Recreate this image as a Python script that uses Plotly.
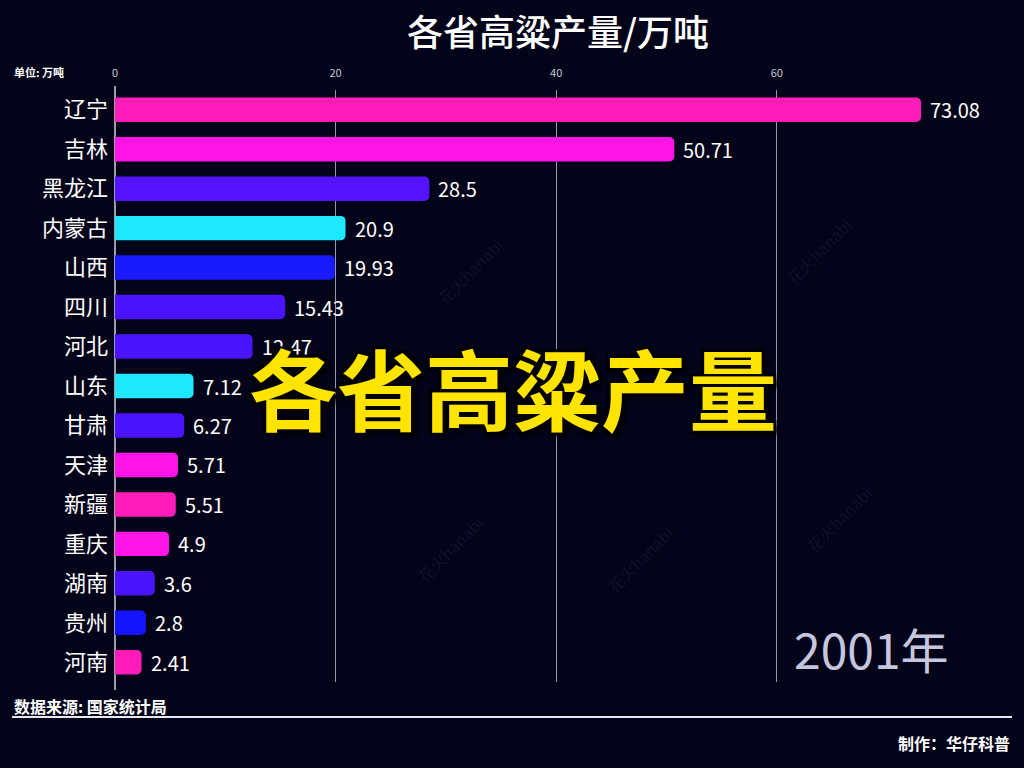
import plotly.graph_objects as go

provinces = ["辽宁", "吉林", "黑龙江", "内蒙古", "山西", "四川", "河北", "山东",
             "甘肃", "天津", "新疆", "重庆", "湖南", "贵州", "河南"]
values = [73.08, 50.71, 28.5, 20.9, 19.93, 15.43, 12.47, 7.12,
          6.27, 5.71, 5.51, 4.9, 3.6, 2.8, 2.41]
value_labels = ["73.08", "50.71", "28.5", "20.9", "19.93", "15.43", "12.47", "7.12",
                "6.27", "5.71", "5.51", "4.9", "3.6", "2.8", "2.41"]
colors = ["#ff1cb8", "#ff14e6", "#5514ff", "#1ee8ff", "#1a1aff", "#4a14ff", "#4a14ff", "#1ee8ff",
          "#4a14ff", "#ff14e6", "#ff1cb8", "#ff14e6", "#4a14ff", "#1414ff", "#ff1cb8"]
x_ticks = [0, 20, 40, 60]
title_text = "各省高粱产量/万吨"
year_text = "2001年"

FONT = "Noto Sans CJK SC"
BG = "#03031a"

# plot area in pixels
L, R, T, B = 115, 24, 90, 86
W, H = 1024, 768
pw, ph = W - L - R, H - T - B
x_max = pw / 11.03


def px(x):
    return (x - L) / pw


def py(y):
    return (H - B - y) / ph


fig = go.Figure()
fig.add_trace(go.Bar(
    x=values, y=provinces, orientation="h",
    marker=dict(color=colors, cornerradius=5, line=dict(width=0)),
    width=0.62, hoverinfo="skip",
))

annotations = []
for v, lab, p in zip(values, value_labels, provinces):
    annotations.append(dict(x=v, y=p, xref="x", yref="y", text=lab, showarrow=False,
                            xanchor="left", xshift=7,
                            font=dict(family=FONT, size=20, color="#ffffff")))

# watermarks
for (wx, wy) in [(470, 230), (860, 210), (450, 590), (640, 600), (880, 560)]:
    annotations.append(dict(x=px(wx), y=py(wy), xref="paper", yref="paper", text="花火hanabi",
                            showarrow=False, textangle=-45,
                            font=dict(family=FONT, size=16, color="rgba(120,130,200,0.12)")))

annotations += [
    dict(x=0.5, y=py(30), xref="paper", yref="paper", text=title_text, showarrow=False,
         xanchor="center", yanchor="middle",
         font=dict(family=FONT, size=36, color="#ffffff", weight=500)),
    dict(x=px(12), y=py(72), xref="paper", yref="paper", text="单位: 万吨", showarrow=False,
         xanchor="left", yanchor="middle",
         font=dict(family=FONT, size=11, color="#ffffff", weight="bold")),
    dict(x=px(12), y=py(706), xref="paper", yref="paper", text="数据来源: 国家统计局", showarrow=False,
         xanchor="left", yanchor="middle",
         font=dict(family=FONT, size=16, color="#ffffff", weight="bold")),
    dict(x=px(1012), y=py(743), xref="paper", yref="paper", text="制作：华仔科普", showarrow=False,
         xanchor="right", yanchor="middle",
         font=dict(family=FONT, size=16, color="#ffffff", weight="bold")),
    dict(x=px(792), y=py(648), xref="paper", yref="paper", text=year_text, showarrow=False,
         xanchor="left", yanchor="middle",
         font=dict(family=FONT, size=48, color="#c6c6de")),
    dict(x=px(513), y=py(385), xref="paper", yref="paper", text="各省高粱产量", showarrow=False,
         xanchor="center", yanchor="middle",
         font=dict(family=FONT, size=88, color="#ffe400", weight="bold",
                   shadow="3px 3px 0 #000, -3px -3px 0 #000, 3px -3px 0 #000, -3px 3px 0 #000, 4px 4px 5px #000")),
]

fig.update_layout(
    width=W, height=H,
    margin=dict(l=L, r=R, t=T, b=B, autoexpand=False),
    paper_bgcolor=BG, plot_bgcolor=BG,
    showlegend=False,
    bargap=0.38,
    font=dict(family=FONT, color="#ffffff"),
    xaxis=dict(range=[0, x_max], side="top", tickvals=x_ticks, ticktext=[str(t) for t in x_ticks],
               showgrid=True, gridcolor="rgba(200,200,220,0.75)", gridwidth=1,
               zeroline=False, showline=False, ticks="",
               tickfont=dict(family=FONT, size=11, color="#c8c8d8"), ticklabelstandoff=10),
    yaxis=dict(categoryorder="array", categoryarray=provinces, autorange="reversed",
               showgrid=False, zeroline=False, showline=False, ticks="",
               tickfont=dict(family=FONT, size=22, color="#ffffff"), ticklabelstandoff=6),
    annotations=annotations,
    shapes=[
        dict(type="line", xref="paper", yref="paper", x0=px(115), x1=px(115), y0=py(86), y1=py(690),
             line=dict(color="rgba(230,230,240,0.9)", width=1.5), layer="below"),
        dict(type="line", xref="paper", yref="paper", x0=px(12), x1=px(1012), y0=py(717), y1=py(717),
             line=dict(color="#e8e8f0", width=2)),
    ],
)

fig.write_html("out.html", config={"displayModeBar": False},
               post_script="document.body.style.margin='0';document.body.style.background='%s';" % BG)
